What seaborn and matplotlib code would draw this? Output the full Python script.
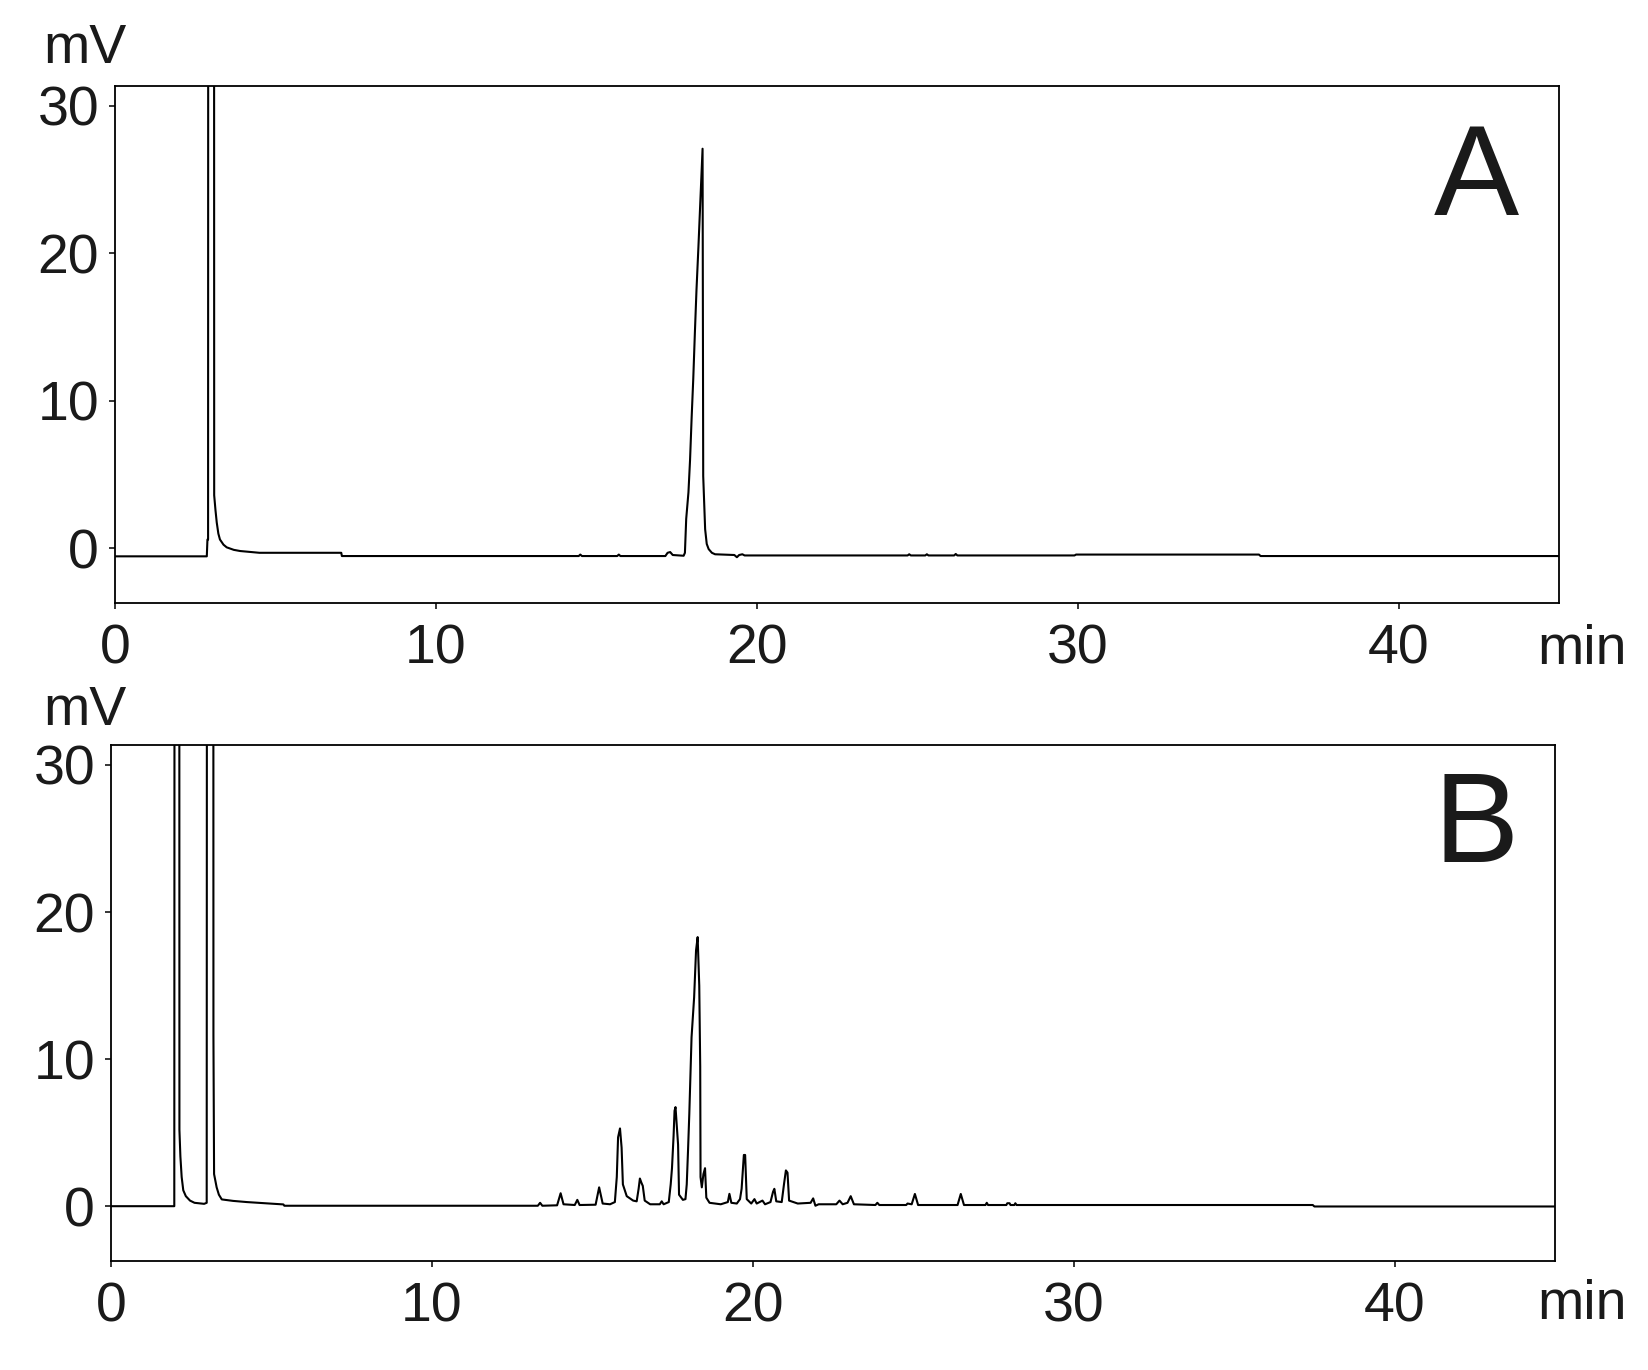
import numpy as np
import pandas as pd
import matplotlib
matplotlib.use("Agg")
import matplotlib.pyplot as plt
import seaborn as sns

sns.set_style("ticks")
plt.rcParams['font.family'] = ['Liberation Sans', 'DejaVu Sans']

# chromatogram A (standard): retention time (min) / detector signal (mV)
time_a = [0, 2.86, 2.88, 2.90, 2.91, 3.08, 3.09, 3.13, 3.17, 3.22, 3.27, 3.38, 3.48, 3.7,
          3.9, 4.5, 7.05, 7.07, 14.45, 14.5, 14.55, 15.65, 15.7, 15.75, 17.15, 17.22,
          17.3, 17.38, 17.72, 17.76, 17.80, 17.87, 17.92, 17.97, 18.02, 18.07, 18.12,
          18.18, 18.24, 18.31, 18.33, 18.39, 18.44, 18.5, 18.6, 18.7, 19.3, 19.38, 19.45,
          19.55, 19.62, 24.7, 24.75, 24.8, 25.25, 25.3, 25.35, 26.15, 26.2, 26.25, 29.9,
          29.95, 35.65, 35.7, 45]
signal_a = [-0.54, -0.54, 0.6, 0.6, 120, 120, 3.6, 2.6, 1.75, 1.0, 0.6, 0.25, 0.07, -0.1,
            -0.18, -0.3, -0.3, -0.52, -0.52, -0.42, -0.52, -0.52, -0.42, -0.52, -0.52, -0.3,
            -0.25, -0.45, -0.5, -0.3, 2.0, 3.8, 6.0, 8.9, 11.5, 14.6, 17.5,
            20.4, 23.5, 27.1, 4.9, 1.3, 0.3, -0.05, -0.3, -0.4, -0.45, -0.6, -0.45,
            -0.4, -0.48, -0.48, -0.4, -0.48, -0.48, -0.4, -0.48, -0.48, -0.38, -0.48, -0.48,
            -0.42, -0.42, -0.52, -0.52]

# chromatogram B (sample)
time_b = [0, 1.97, 1.99, 2.12, 2.13, 2.16, 2.2, 2.25, 2.33, 2.46, 2.6, 2.9, 2.98, 3.0,
          3.18, 3.19, 3.21, 3.29, 3.36, 3.45, 3.8, 4.23, 5.37, 5.4, 13.3, 13.37, 13.44,
          13.9, 14.01, 14.1, 14.45, 14.53, 14.6, 15.1, 15.18, 15.21, 15.26, 15.32, 15.55,
          15.7, 15.76, 15.8, 15.86, 15.91, 15.95, 16.07, 16.27, 16.38, 16.44, 16.48, 16.53,
          16.57, 16.63, 16.8, 17.1, 17.16, 17.22, 17.38, 17.44, 17.48, 17.53, 17.56, 17.59,
          17.63, 17.67, 17.7, 17.82, 17.9, 17.94, 17.98, 18.02, 18.09, 18.17, 18.23, 18.28,
          18.33, 18.36, 18.37, 18.41, 18.46, 18.51, 18.55, 18.65, 19.0, 19.22, 19.27, 19.33,
          19.5, 19.6, 19.65, 19.72, 19.76, 19.81, 19.95, 20.05, 20.12, 20.3, 20.38, 20.55,
          20.63, 20.67, 20.73, 20.9, 20.97, 21.03, 21.08, 21.13, 21.4, 21.8, 21.88, 21.95,
          22.05, 22.6, 22.7, 22.8, 22.95, 23.05, 23.15, 23.82, 23.88, 23.94, 24.78, 24.82,
          24.95, 25.05, 25.15, 26.38, 26.48, 26.58, 27.25, 27.29, 27.33, 27.9, 27.93, 28.0,
          28.03, 28.15, 28.18, 28.22, 37.45, 37.5, 45]
signal_b = [0.02, 0.02, 120, 120, 5.2, 3.4, 2.0, 1.1, 0.7, 0.4, 0.25, 0.18, 0.25, 120,
            120, 11.6, 2.2, 1.3, 0.8, 0.48, 0.38, 0.3, 0.14, 0.05, 0.05, 0.25, 0.05,
            0.08, 0.9, 0.15, 0.1, 0.45, 0.1, 0.12, 1.0, 1.3, 0.8, 0.2, 0.15,
            0.3, 2.0, 4.7, 5.3, 4.0, 1.5, 0.7, 0.4, 0.35, 1.2, 1.9, 1.6,
            1.4, 0.4, 0.15, 0.15, 0.35, 0.15, 0.3, 1.5, 2.6, 4.8, 6.5, 6.75,
            5.5, 4.2, 0.8, 0.45, 0.5, 1.5, 3.8, 6.3, 11.5, 14.2, 17.4, 18.3,
            15.0, 9.5, 2.0, 1.3, 2.2, 2.6, 0.6, 0.25, 0.15, 0.3, 0.86, 0.25,
            0.2, 0.5, 1.2, 3.5, 3.5, 0.5, 0.2, 0.5, 0.2, 0.4, 0.15, 0.3,
            1.0, 1.2, 0.35, 0.3, 1.5, 2.45, 2.3, 0.4, 0.2, 0.25, 0.55, 0.05,
            0.15, 0.15, 0.4, 0.15, 0.25, 0.7, 0.15, 0.1, 0.25, 0.1, 0.1, 0.2,
            0.15, 0.85, 0.1, 0.1, 0.85, 0.1, 0.1, 0.25, 0.1, 0.1, 0.22, 0.22,
            0.1, 0.1, 0.22, 0.1, 0.1, 0.0, 0.0]

panels = [("A", time_a, signal_a), ("B", time_b, signal_b)]
x_ticks = [0, 10, 20, 30, 40]
y_ticks = [0, 10, 20, 30]

fig = plt.figure(figsize=(16.48, 13.70), dpi=100)
# axes boxes (left, bottom, width, height) in figure fractions
boxes = [[0.0698, 0.5599, 0.8762, 0.3773], [0.0674, 0.0796, 0.8762, 0.3766]]
mv_pos = [0.954, 0.4708]
min_pos = [0.5150, 0.0370]
letter_pos = [0.843, 0.371]

for i, (name, t, s) in enumerate(panels):
    ax = fig.add_axes(boxes[i])
    df = pd.DataFrame({'time': t, 'signal': s})
    sns.lineplot(data=df, x='time', y='signal', ax=ax, sort=False, estimator=None,
                 color='black', linewidth=1.5)
    ax.set_xlim(0, 45)
    ax.set_ylim(-3.7, 31.35)
    ax.set_xticks(x_ticks)
    ax.set_yticks(y_ticks)
    ax.set_xlabel('')
    ax.set_ylabel('')
    ax.tick_params(axis='both', labelsize=40, length=4.5, width=1.1, color='black',
                   labelcolor='#1a1a1a', direction='out')
    ax.tick_params(axis='x', pad=10)
    ax.tick_params(axis='y', pad=7)
    for sp in ax.spines.values():
        sp.set_linewidth(1.3)
        sp.set_color('black')
    fig.text(0.9217, letter_pos[i], name, fontsize=92, ha='right', va='baseline',
             color='#1a1a1a')
    fig.text(0.026, mv_pos[i], 'mV', fontsize=40, ha='left', va='baseline', color='#1a1a1a')
    fig.text(0.9327, min_pos[i], 'min', fontsize=40, ha='left', va='baseline', color='#1a1a1a')

fig.savefig('out.png', dpi=100, facecolor='white')
